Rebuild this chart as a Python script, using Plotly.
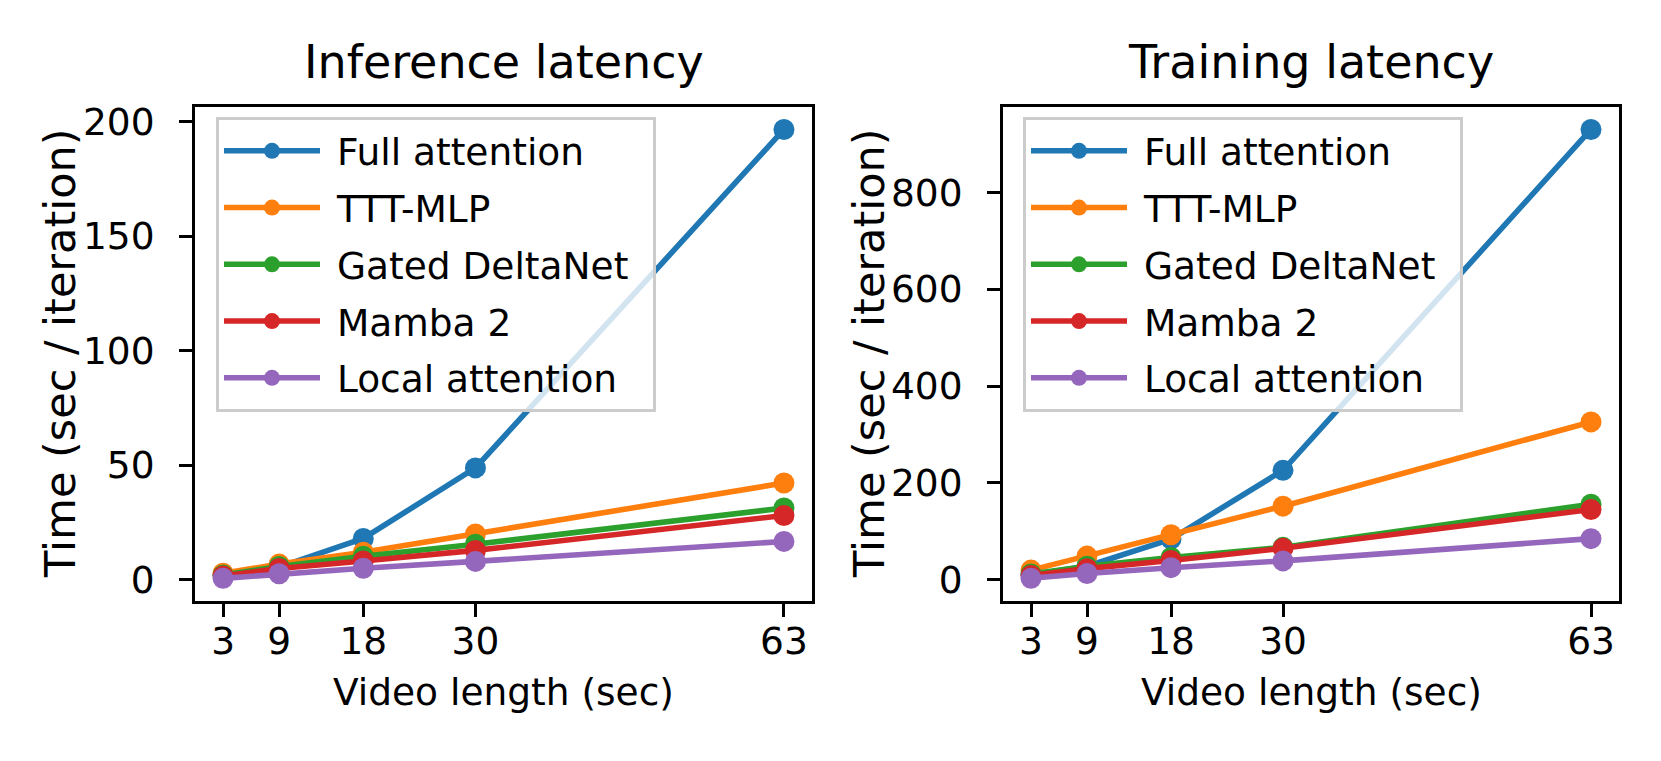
import plotly.graph_objects as go

video_len = [3, 9, 18, 30, 63]
series_names = ["Full attention", "TTT-MLP", "Gated DeltaNet", "Mamba 2", "Local attention"]
colors = ["#1f77b4", "#ff7f0e", "#2ca02c", "#d62728", "#9467bd"]

inf_full = [2.0, 5.5, 18.0, 48.8, 196.5]
inf_ttt = [2.8, 6.8, 12.0, 20.0, 42.2]
inf_gdn = [2.0, 5.8, 10.2, 15.5, 31.3]
inf_mamba = [1.6, 4.9, 8.2, 12.8, 28.0]
inf_local = [0.6, 2.6, 5.0, 8.0, 16.7]

tr_full = [10, 28, 84, 226, 930]
tr_ttt = [20, 49, 93, 152, 326]
tr_gdn = [12, 28, 46, 67, 156]
tr_mamba = [9, 23, 40, 65, 145]
tr_local = [3, 13, 25, 39, 85]

inf_ticks = [0, 50, 100, 150, 200]
tr_ticks = [0, 200, 400, 600, 800]

W, H = 1661, 761
OFF = 8  # page body margin offset
FONT = "DejaVu Sans"
TICK_FS = 37.5

def px_x(p):
    return (p - OFF) / W

def px_y(p):
    return 1 - (p - OFF) / H

fig = go.Figure()

panels = [
    ("x", "y", "legend", [inf_full, inf_ttt, inf_gdn, inf_mamba, inf_local], "inf"),
    ("x2", "y2", "legend2", [tr_full, tr_ttt, tr_gdn, tr_mamba, tr_local], "tr"),
]
for xa, ya, lg, data, tag in panels:
    for name, col, vals in zip(series_names, colors, data):
        fig.add_trace(go.Scatter(
            x=video_len, y=vals, name="\u00a0" + name + "\u00a0\u2009", mode="lines+markers",
            line=dict(color=col, width=5.6),
            marker=dict(color=col, size=21),
            xaxis=xa, yaxis=ya, legend=lg, legendgroup=tag + name,
        ))

def yrange(data):
    lo = min(min(d) for d in data)
    hi = max(max(d) for d in data)
    pad = 0.05 * (hi - lo)
    return [lo - pad, hi + pad]

ax_common = dict(
    showline=True, linecolor="black", linewidth=3, mirror=True,
    ticks="outside", ticklen=13, tickwidth=3, tickcolor="black",
    showgrid=False, zeroline=False,
    tickfont=dict(family=FONT, size=TICK_FS, color="black"),
)

ydom = [px_y(600), px_y(101)]
fig.update_layout(
    width=W, height=H,
    margin=dict(l=0, r=0, t=0, b=0),
    paper_bgcolor="white", plot_bgcolor="white",
    showlegend=True,
    xaxis=dict(domain=[px_x(195), px_x(812)], range=[0, 66], tickvals=video_len,
               ticktext=[str(v) for v in video_len], ticklabelstandoff=-8, **ax_common),
    yaxis=dict(domain=ydom, range=yrange([inf_full, inf_ttt, inf_gdn, inf_mamba, inf_local]),
               tickvals=inf_ticks, ticklabelstandoff=17, **ax_common),
    xaxis2=dict(domain=[px_x(1003), px_x(1619)], range=[0, 66], tickvals=video_len,
                ticktext=[str(v) for v in video_len], anchor="y2", ticklabelstandoff=-8, **ax_common),
    yaxis2=dict(domain=ydom, range=yrange([tr_full, tr_ttt, tr_gdn, tr_mamba, tr_local]),
                tickvals=tr_ticks, anchor="x2", ticklabelstandoff=17, **ax_common),
)

leg_common = dict(
    bgcolor="rgba(255,255,255,0.8)", bordercolor="#cccccc", borderwidth=3,
    font=dict(family=FONT, size=TICK_FS, color="black"),
    xanchor="left", yanchor="top", tracegroupgap=5, itemwidth=96,
)
fig.update_layout(
    legend=dict(x=px_x(216), y=px_y(111), **leg_common),
    legend2=dict(x=px_x(1023), y=px_y(111), **leg_common),
)

annots = [
    dict(text="Inference latency", x=(px_x(195) + px_x(812)) / 2, y=px_y(55), size=46),
    dict(text="Training latency", x=(px_x(1003) + px_x(1619)) / 2, y=px_y(55), size=46),
    dict(text="Video length (sec)", x=(px_x(195) + px_x(812)) / 2, y=px_y(692), size=TICK_FS),
    dict(text="Video length (sec)", x=(px_x(1003) + px_x(1619)) / 2, y=px_y(692), size=TICK_FS),
]
for a in annots:
    fig.add_annotation(text=a["text"], x=a["x"], y=a["y"], xref="paper", yref="paper",
                       xanchor="center", yanchor="middle", showarrow=False,
                       font=dict(family=FONT, size=a["size"], color="black"))
for xc in [60, 869]:
    fig.add_annotation(text="Time (sec / iteration)", x=px_x(xc), y=(ydom[0] + ydom[1]) / 2,
                       xref="paper", yref="paper", xanchor="center", yanchor="middle",
                       textangle=-90, showarrow=False,
                       font=dict(family=FONT, size=43, color="black"))

fig.write_html("out.html")
